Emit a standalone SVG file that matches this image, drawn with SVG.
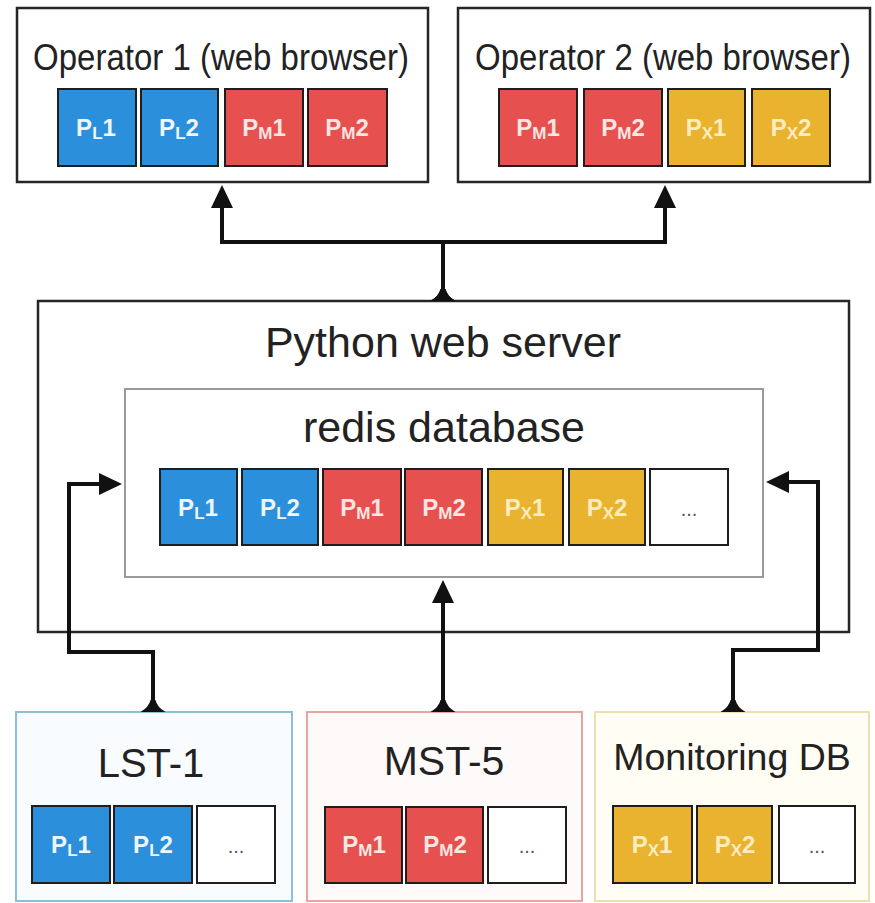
<svg xmlns="http://www.w3.org/2000/svg" width="875" height="903" viewBox="0 0 875 903">
  <style>
    .box { fill: #ffffff; stroke: #262626; stroke-width: 2.5; }
    .inner { fill: #ffffff; stroke: #9a9a9a; stroke-width: 2; }
    .title { font-family: "Liberation Sans", Arial, sans-serif; fill: #222222; text-anchor: middle; }
    .tile { stroke: #1e1e1e; stroke-width: 2; }
    .blue { fill: #2c8fdb; }
    .red { fill: #e6504f; }
    .yellow { fill: #e9b330; }
    .empty { fill: #ffffff; }
    .lbl { font-family: "Liberation Sans", Arial, sans-serif; font-size: 24px; font-weight: bold; text-anchor: middle; }
    .lbl-b { fill: #eef6fc; }
    .lbl-r { fill: #fbe6e2; }
    .lbl-y { fill: #fcedbe; }
    .sub { font-size: 17px; }
    .dots { font-family: "Liberation Sans", Arial, sans-serif; font-size: 20px; fill: #555555; text-anchor: middle; }
    .wire { fill: none; stroke: #111111; stroke-width: 4; stroke-linejoin: miter; }
  </style>
  <defs>
    <marker id="arrow" markerUnits="userSpaceOnUse" viewBox="0 0 23 22" markerWidth="23" markerHeight="22" refX="0" refY="11" orient="auto">
      <path d="M0,0 L23,11 L0,22 Z" fill="#111111"/>
    </marker>
    <marker id="foot" markerUnits="userSpaceOnUse" viewBox="0 -13 13 26" markerWidth="13" markerHeight="26" refX="0" refY="0" orient="auto">
      <path d="M0,-12.5 Q5,-4 12,-2.5 L12,2.5 Q5,4 0,12.5 Z" fill="#111111"/>
    </marker>
  </defs>

  <!-- Operator 1 -->
  <g id="operator1">
    <rect class="box" x="17" y="8" width="411" height="174"/>
    <text class="title" transform="translate(221,70) scale(1,1.12)" font-size="33">Operator 1 (web browser)</text>
    <rect class="tile blue" x="58" y="89" width="78" height="77"/>
    <text class="lbl lbl-b" x="96" y="136">P<tspan class="sub" dy="3">L</tspan><tspan dy="-3">1</tspan></text>
    <rect class="tile blue" x="141" y="89" width="77" height="77"/>
    <text class="lbl lbl-b" x="179" y="136">P<tspan class="sub" dy="3">L</tspan><tspan dy="-3">2</tspan></text>
    <rect class="tile red" x="225" y="89" width="78" height="77"/>
    <text class="lbl lbl-r" x="264" y="136">P<tspan class="sub" dy="3">M</tspan><tspan dy="-3">1</tspan></text>
    <rect class="tile red" x="308" y="89" width="79" height="77"/>
    <text class="lbl lbl-r" x="347" y="136">P<tspan class="sub" dy="3">M</tspan><tspan dy="-3">2</tspan></text>
  </g>

  <!-- Operator 2 -->
  <g id="operator2">
    <rect class="box" x="458" y="8" width="412" height="174"/>
    <text class="title" transform="translate(663,70) scale(1,1.12)" font-size="33">Operator 2 (web browser)</text>
    <rect class="tile red" x="499" y="89" width="78" height="77"/>
    <text class="lbl lbl-r" x="538" y="136">P<tspan class="sub" dy="3">M</tspan><tspan dy="-3">1</tspan></text>
    <rect class="tile red" x="584" y="89" width="78" height="77"/>
    <text class="lbl lbl-r" x="623" y="136">P<tspan class="sub" dy="3">M</tspan><tspan dy="-3">2</tspan></text>
    <rect class="tile yellow" x="668" y="89" width="77" height="77"/>
    <text class="lbl lbl-y" x="706" y="136">P<tspan class="sub" dy="3">X</tspan><tspan dy="-3">1</tspan></text>
    <rect class="tile yellow" x="752" y="89" width="78" height="77"/>
    <text class="lbl lbl-y" x="791" y="136">P<tspan class="sub" dy="3">X</tspan><tspan dy="-3">2</tspan></text>
  </g>

  <!-- Python web server with the redis database inside -->
  <g id="server">
    <rect class="box" x="38" y="301" width="811" height="331"/>
    <text class="title" x="443" y="357" font-size="43">Python web server</text>
  </g>
  <g id="redis">
    <rect class="inner" x="125" y="389" width="638" height="188"/>
    <text class="title" x="444" y="442" font-size="43">redis database</text>
    <rect class="tile blue" x="160" y="469" width="77" height="76"/>
    <text class="lbl lbl-b" x="198" y="516">P<tspan class="sub" dy="3">L</tspan><tspan dy="-3">1</tspan></text>
    <rect class="tile blue" x="242" y="469" width="76" height="76"/>
    <text class="lbl lbl-b" x="280" y="516">P<tspan class="sub" dy="3">L</tspan><tspan dy="-3">2</tspan></text>
    <rect class="tile red" x="323" y="469" width="78" height="76"/>
    <text class="lbl lbl-r" x="362" y="516">P<tspan class="sub" dy="3">M</tspan><tspan dy="-3">1</tspan></text>
    <rect class="tile red" x="405" y="469" width="77" height="76"/>
    <text class="lbl lbl-r" x="444" y="516">P<tspan class="sub" dy="3">M</tspan><tspan dy="-3">2</tspan></text>
    <rect class="tile yellow" x="488" y="469" width="75" height="76"/>
    <text class="lbl lbl-y" x="525" y="516">P<tspan class="sub" dy="3">X</tspan><tspan dy="-3">1</tspan></text>
    <rect class="tile yellow" x="569" y="469" width="76" height="76"/>
    <text class="lbl lbl-y" x="607" y="516">P<tspan class="sub" dy="3">X</tspan><tspan dy="-3">2</tspan></text>
    <rect class="tile empty" x="650" y="469" width="78" height="76"/>
    <text class="dots" x="689" y="516">...</text>
  </g>

  <!-- Data sources -->
  <g id="lst1">
    <rect x="16" y="712" width="276" height="189" fill="#f8fcfe" stroke="#8cc0da" stroke-width="2"/>
    <text class="title" x="151" y="777" font-size="40">LST-1</text>
    <rect class="tile blue" x="32" y="806" width="78" height="77"/>
    <text class="lbl lbl-b" x="71" y="853">P<tspan class="sub" dy="3">L</tspan><tspan dy="-3">1</tspan></text>
    <rect class="tile blue" x="114" y="806" width="78" height="77"/>
    <text class="lbl lbl-b" x="153" y="853">P<tspan class="sub" dy="3">L</tspan><tspan dy="-3">2</tspan></text>
    <rect class="tile empty" x="197" y="806" width="78" height="77"/>
    <text class="dots" x="236" y="853">...</text>
  </g>
  <g id="mst5">
    <rect x="307" y="712" width="275" height="189" fill="#fffafa" stroke="#e6a6a0" stroke-width="2"/>
    <text class="title" x="444" y="775" font-size="41">MST-5</text>
    <rect class="tile red" x="325" y="807" width="77" height="76"/>
    <text class="lbl lbl-r" x="364" y="853">P<tspan class="sub" dy="3">M</tspan><tspan dy="-3">1</tspan></text>
    <rect class="tile red" x="406" y="807" width="77" height="76"/>
    <text class="lbl lbl-r" x="445" y="853">P<tspan class="sub" dy="3">M</tspan><tspan dy="-3">2</tspan></text>
    <rect class="tile empty" x="488" y="807" width="78" height="76"/>
    <text class="dots" x="527" y="853">...</text>
  </g>
  <g id="monitoring">
    <rect x="595" y="712" width="274" height="189" fill="#fffdf4" stroke="#eedfae" stroke-width="2"/>
    <text class="title" x="732" y="770" font-size="37.5">Monitoring DB</text>
    <rect class="tile yellow" x="613" y="806" width="79" height="77"/>
    <text class="lbl lbl-y" x="652" y="853">P<tspan class="sub" dy="3">X</tspan><tspan dy="-3">1</tspan></text>
    <rect class="tile yellow" x="697" y="806" width="75" height="77"/>
    <text class="lbl lbl-y" x="735" y="853">P<tspan class="sub" dy="3">X</tspan><tspan dy="-3">2</tspan></text>
    <rect class="tile empty" x="779" y="806" width="76" height="77"/>
    <text class="dots" x="817" y="853">...</text>
  </g>

  <!-- Connectors -->
  <g id="connectors">
    <path class="wire" d="M443,301 V242 H222 V208" marker-start="url(#foot)" marker-end="url(#arrow)"/>
    <path class="wire" d="M443,301 V242 H665 V208" marker-start="url(#foot)" marker-end="url(#arrow)"/>
    <path class="wire" d="M153,712 V652 H69 V484 H99" marker-start="url(#foot)" marker-end="url(#arrow)"/>
    <path class="wire" d="M443,712 V603" marker-start="url(#foot)" marker-end="url(#arrow)"/>
    <path class="wire" d="M733,712 V650 H818 V482 H789" marker-start="url(#foot)" marker-end="url(#arrow)"/>
  </g>
</svg>
